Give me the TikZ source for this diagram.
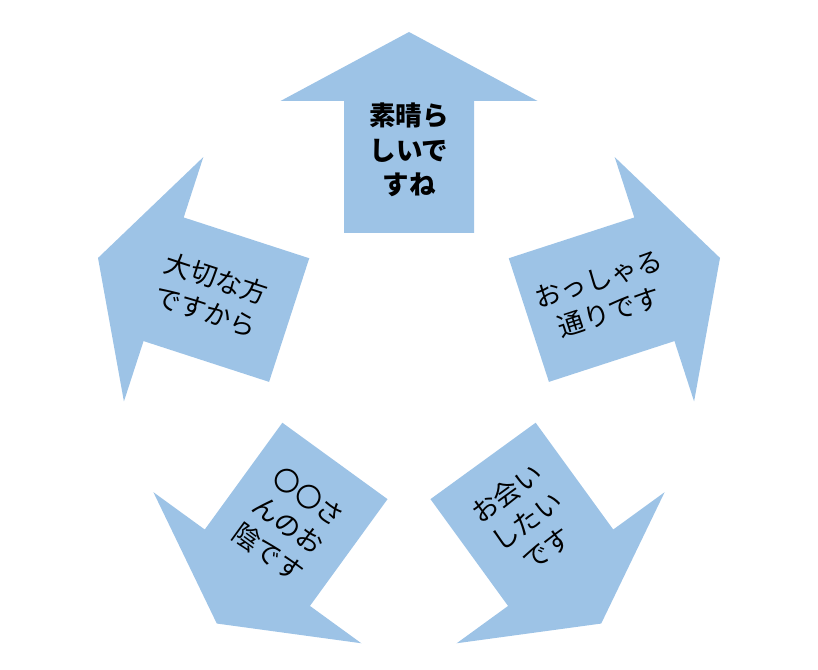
\documentclass[tikz,border=0pt]{standalone}
\usepackage{fontspec}
\newfontfamily\jp{Noto Sans CJK JP}
\definecolor{arrowblue}{RGB}{157,195,230}
\tikzset{
  arrowfill/.style={fill=arrowblue, draw=none},
  lbl/.style={font=\jp\fontsize{26.5}{34.5}\selectfont, align=center, text=black, inner sep=0pt}
}
\newcommand\bigarrowshape{%
  \fill[arrowfill] (126,-65) -- (258,-65) -- (258,-128.5) -- (327,0)
      -- (258,128.5) -- (258,65) -- (126,65) -- cycle;}
\begin{document}
\begin{tikzpicture}[x=1pt,y=1pt]
\useasboundingbox (0,0) rectangle (818,669);
\coordinate (c) at (409,310);
% top
\begin{scope}[shift={(c)}, rotate=90]
  \bigarrowshape
  \node[lbl, font=\jp\bfseries\fontsize{26.5}{34.5}\selectfont] (t1) at (209,0) {素晴ら\\しいで\\すね};
\end{scope}
% right
\begin{scope}[shift={(c)}, rotate=18]
  \bigarrowshape
  \node[lbl, rotate=18] (t2) at (205,0) {おっしゃる\\通りです};
\end{scope}
% bottom right
\begin{scope}[shift={(c)}, rotate=-54]
  \bigarrowshape
  \node[lbl, rotate=36] (t3) at (200,0) {お会い\\したい\\です};
\end{scope}
% bottom left
\begin{scope}[shift={(c)}, rotate=-126]
  \bigarrowshape
  \node[lbl, rotate=-36] (t4) at (205,0) {〇〇さ\\んのお\\陰です};
\end{scope}
% left
\begin{scope}[shift={(c)}, rotate=162]
  \bigarrowshape
  \node[lbl, rotate=-18] (t5) at (208,0) {大切な方\\ですから};
\end{scope}
\end{tikzpicture}
\end{document}
